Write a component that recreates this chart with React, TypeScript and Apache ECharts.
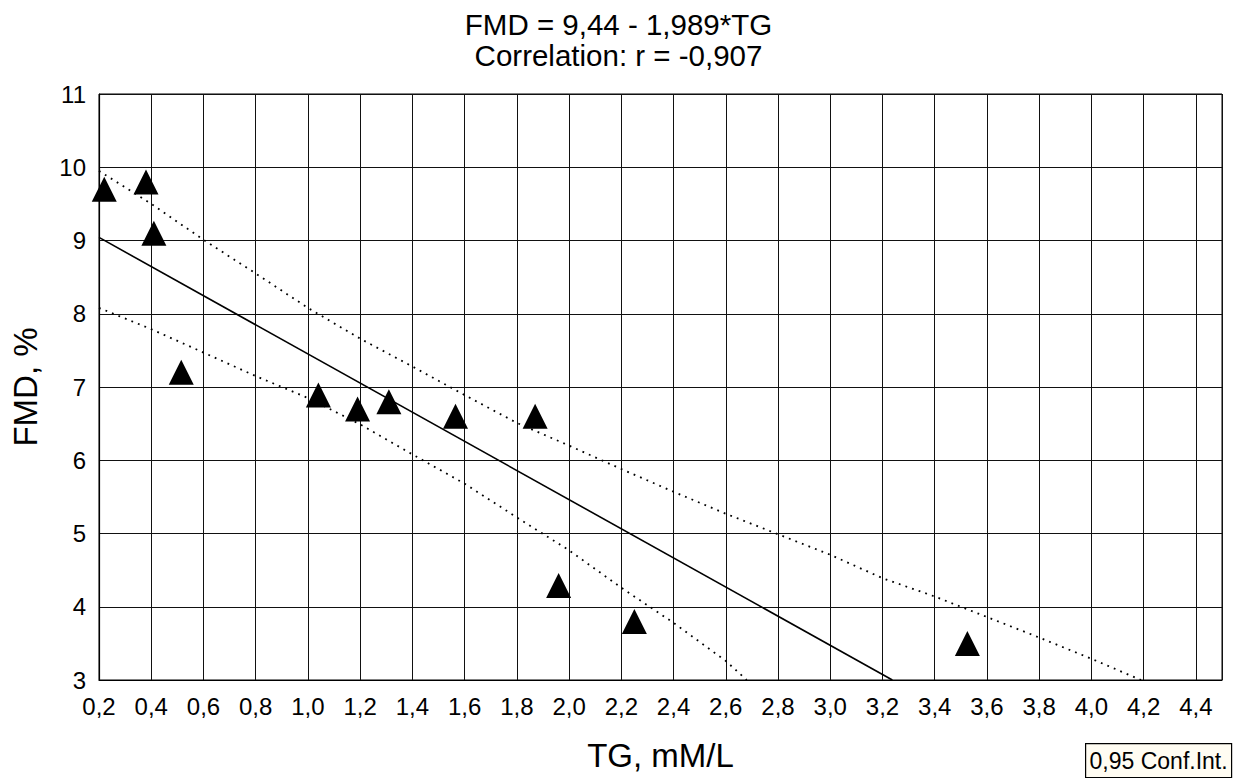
import React, { useEffect, useRef } from "react";
import * as echarts from "echarts";

const tgValues = [0.22, 0.38, 0.41, 0.515, 1.04, 1.19, 1.31, 1.565, 1.87, 1.96, 2.25, 3.525];
const fmdValues = [9.7, 9.8, 9.1, 7.2, 6.89, 6.7, 6.8, 6.6, 6.6, 4.29, 3.8, 3.5];

const regIntercept = 9.44;
const regSlope = -1.989;
const regXStart = 0.2;
const yFloor = 3;

const upperX = [0.2, 0.4, 0.6, 0.8, 1.0, 1.2, 1.4, 1.6, 1.8, 2.0, 2.2, 2.4, 2.6, 2.8, 3.0, 3.2, 3.4, 3.6, 3.8, 4.0, 4.19];
const upperY = [9.95, 9.5, 9.01, 8.55, 8.08, 7.66, 7.28, 6.89, 6.51, 6.2, 5.88, 5.57, 5.27, 4.99, 4.71, 4.39, 4.14, 3.86, 3.58, 3.29, 3.0];

const lowerX = [0.2, 0.4, 0.6, 0.8, 1.0, 1.2, 1.4, 1.6, 1.8, 2.0, 2.2, 2.4, 2.6, 2.68];
const lowerY = [8.08, 7.79, 7.47, 7.15, 6.85, 6.49, 6.08, 5.68, 5.22, 4.77, 4.26, 3.78, 3.26, 3.0];

const titleLines = ["FMD = 9,44 - 1,989*TG", "Correlation: r = -0,907"];
const xAxisName = "TG, mM/L";
const yAxisName = "FMD, %";
const legendText = "0,95 Conf.Int.";

const FONT = "'Liberation Sans', Arial, sans-serif";

export default function App() {
  const ref = useRef<HTMLDivElement>(null);
  useEffect(() => {
    if (!ref.current) return;
    const chart = echarts.init(ref.current, undefined, { renderer: "svg" });
    const points = tgValues.map((x, i) => [x, fmdValues[i]]);
    const regXEnd = (regIntercept - yFloor) / -regSlope;
    const regLine = [
      [regXStart, regIntercept + regSlope * regXStart],
      [regXEnd, regIntercept + regSlope * regXEnd],
    ];
    const upper = upperX.map((x, i) => [x, upperY[i]]);
    const lower = lowerX.map((x, i) => [x, lowerY[i]]);
    const fmt = (v: number) => v.toFixed(1).replace(".", ",");
    chart.setOption({
      animation: false,
      backgroundColor: "#ffffff",
      textStyle: { fontFamily: FONT, color: "#000" },
      title: {
        text: titleLines.join("\n"),
        left: "center",
        top: 4,
        textStyle: { fontFamily: FONT, fontSize: 29.5, fontWeight: "normal", color: "#000", lineHeight: 31 },
      },
      grid: {
        left: 99,
        right: 15,
        top: 94,
        bottom: 98,
        show: true,
        borderColor: "#000",
        borderWidth: 1,
        backgroundColor: "#fff",
      },
      xAxis: {
        type: "value",
        min: 0.2,
        max: 4.5,
        interval: 0.2,
        name: xAxisName,
        nameLocation: "middle",
        nameGap: 59,
        nameTextStyle: { fontFamily: FONT, fontSize: 33, color: "#000" },
        axisLine: { show: true, onZero: false, lineStyle: { color: "#000", width: 1.2 } },
        axisTick: { show: false },
        axisLabel: {
          showMaxLabel: false,
          margin: 14,
          fontFamily: FONT,
          fontSize: 24,
          color: "#000",
          formatter: (v: number) => fmt(v),
        },
        splitLine: { show: true, lineStyle: { color: "#111", width: 1 } },
      },
      yAxis: {
        type: "value",
        min: 3,
        max: 11,
        interval: 1,
        name: yAxisName,
        nameLocation: "middle",
        nameGap: 57,
        nameTextStyle: { fontFamily: FONT, fontSize: 33, color: "#000" },
        axisLine: { show: true, onZero: false, lineStyle: { color: "#000", width: 1.2 } },
        axisTick: { show: false },
        axisLabel: { margin: 13, fontFamily: FONT, fontSize: 24, color: "#000" },
        splitLine: { show: true, lineStyle: { color: "#111", width: 1 } },
      },
      series: [
        {
          type: "line",
          data: regLine,
          symbol: "none",
          lineStyle: { color: "#000", width: 1.6 },
          z: 3,
        },
        {
          type: "line",
          data: upper,
          symbol: "none",
          lineStyle: { color: "#000", width: 1.8, type: [1.8, 5.2] },
          z: 3,
        },
        {
          type: "line",
          data: lower,
          symbol: "none",
          lineStyle: { color: "#000", width: 1.8, type: [1.8, 5.2] },
          z: 3,
        },
        {
          type: "scatter",
          data: points,
          symbol: "triangle",
          symbolSize: 25,
          itemStyle: { color: "#000", opacity: 1 },
          z: 5,
        },
      ],
      graphic: [
        {
          type: "group",
          left: 1085,
          top: 743,
          children: [
            {
              type: "rect",
              shape: { x: 0, y: 0, width: 146, height: 34 },
              style: { fill: "#fffcf2", stroke: "#000", lineWidth: 1.2 },
            },
            {
              type: "text",
              x: 73,
              y: 17,
              style: {
                text: legendText,
                fontFamily: FONT,
                fontSize: 23,
                fill: "#000",
                align: "center",
                verticalAlign: "middle",
              },
            },
          ],
        },
      ],
    });
    return () => chart.dispose();
  }, []);
  return (
    <div
      ref={ref}
      style={{ position: "fixed", left: 0, top: 0, width: 1237, height: 778, background: "#fff" }}
    />
  );
}
